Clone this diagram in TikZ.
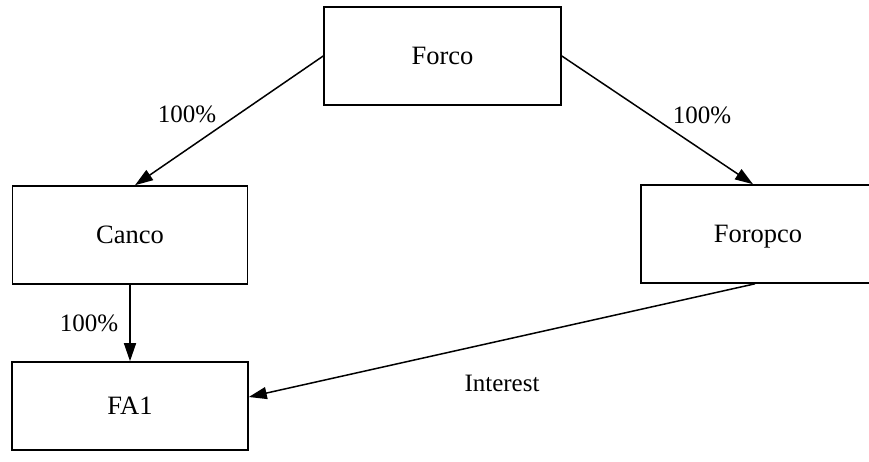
\documentclass[tikz,border=0pt]{standalone}
\usepackage{fontspec}
\setmainfont{Liberation Serif}
\usetikzlibrary{arrows.meta}
\tikzset{
  boxnode/.style={draw=black, line width=1.6pt, rectangle, minimum height=98pt, inner sep=0pt, font=\fontsize{26.5}{30}\selectfont},
  lbl/.style={inner sep=0pt, font=\fontsize{25}{30}\selectfont},
  conn/.style={line width=1.5pt, -{Triangle[length=18pt,width=12pt]}}
}
\begin{document}
\begin{tikzpicture}[x=1pt,y=-1pt]
\useasboundingbox[fill=white] (0,0) rectangle (869,461);
\clip (0,0) rectangle (869,461);
\node[boxnode, minimum width=237pt] (forco) at (442.5,56) {Forco};
\node[boxnode, minimum width=235pt] (canco) at (130,235) {Canco};
\node[boxnode, minimum width=234pt, minimum height=98pt] (foropco) at (758,234) {\raisebox{0pt}[\height][0pt]{Foropco}};
\node[boxnode, minimum width=236pt, minimum height=88pt] (fa1) at (130,406) {FA1};
\draw[conn] (forco.west) -- ([xshift=5pt]canco.north);
\draw[conn] (forco.east) -- ([xshift=-5pt]foropco.north);
\draw[conn] (canco.south) -- (fa1.north);
\draw[conn] ([xshift=-3pt]foropco.south) -- ([yshift=9pt]fa1.east);
\node[lbl] (l1) at (187,114) {100\%};
\node[lbl] (l2) at (702,115) {100\%};
\node[lbl] (l3) at (89,323) {100\%};
\node[lbl] (l4) at (502,383) {Interest};
\end{tikzpicture}
\end{document}
